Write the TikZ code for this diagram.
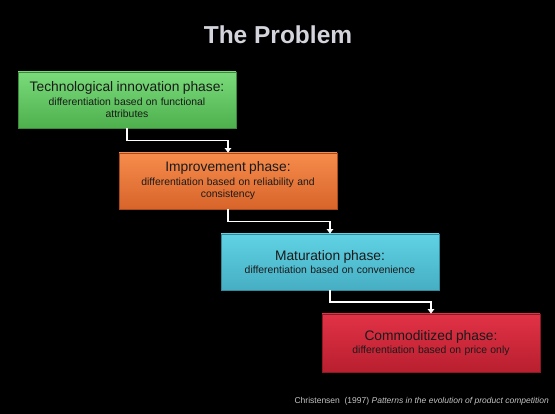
\documentclass[tikz,border=0pt]{standalone}
\usepackage{fontspec}
\setmainfont{Liberation Sans}
\usetikzlibrary{arrows.meta,calc}
\definecolor{gtop}{HTML}{7ADB7A}\definecolor{gbot}{HTML}{4DB04D}\definecolor{gbrd}{HTML}{3A8A3A}
\definecolor{otop}{HTML}{F68C4C}\definecolor{obot}{HTML}{D8642A}\definecolor{obrd}{HTML}{A84A1E}
\definecolor{ctop}{HTML}{60D2E4}\definecolor{cbot}{HTML}{46AEC3}\definecolor{cbrd}{HTML}{2E8C9E}
\definecolor{rtop}{HTML}{E23246}\definecolor{rbot}{HTML}{B81F2F}\definecolor{rbrd}{HTML}{8E1824}
\definecolor{titlec}{HTML}{D4D4DC}
\definecolor{notec}{HTML}{C4C4C4}
\definecolor{txt}{HTML}{1A1A1A}
\tikzset{
  phase/.style={minimum width=218pt, minimum height=56pt, inner sep=2pt, align=center,
    text=txt, line width=0.9pt, text width=214pt},
  conn/.style={draw=white, line width=1.4pt, -{Triangle[width=6.5pt,length=4.5pt]}},
}
\newcommand{\phbig}[1]{{\fontsize{13.8}{15.5}\selectfont #1}}
\newcommand{\phsml}[1]{{\fontsize{10.4}{13}\selectfont #1}}
\begin{document}
\begin{tikzpicture}[x=1pt,y=1pt]
\fill[black] (0,0) rectangle (555,-414);
\useasboundingbox (0,0) rectangle (555,-414);
\node[text=titlec, font=\bfseries\fontsize{24.5}{26}\selectfont] (title) at (278,-35) {The Problem};
\node[phase, top color=gtop, bottom color=gbot, draw=gbrd] (b1) at (127,-100)
  {\phbig{Technological innovation phase:}\\[1pt]\phsml{differentiation based on functional\\attributes}};
\node[phase, top color=otop, bottom color=obot, draw=obrd] (b2) at (228,-181)
  {\phbig{Improvement phase:}\\[1pt]\phsml{differentiation based on reliability and\\consistency}};
\node[phase, top color=ctop, bottom color=cbot, draw=cbrd] (b3) at (330,-262)
  {\phbig{Maturation phase:}\\[1pt]\phsml{differentiation based on convenience}};
\node[phase, minimum height=58pt, top color=rtop, bottom color=rbot, draw=rbrd] (b4) at (431,-343)
  {\phbig{Commoditized phase:}\\[1pt]\phsml{differentiation based on price only}};
\draw[conn] (b1.south) -- ($(b1.south)!0.5!(b1.south|-b2.north)$) -| (b2.north);
\draw[conn] (b2.south) -- ($(b2.south)!0.5!(b2.south|-b3.north)$) -| (b3.north);
\draw[conn] (b3.south) -- ($(b3.south)!0.5!(b3.south|-b4.north)$) -| (b4.north);
\node[anchor=base east, text=notec, font=\fontsize{8.5}{10}\selectfont, inner sep=0pt] (note) at (549,-404)
  {Christensen\ \ (1997) \textit{Patterns in the evolution of product competition}};
\end{tikzpicture}
\end{document}
